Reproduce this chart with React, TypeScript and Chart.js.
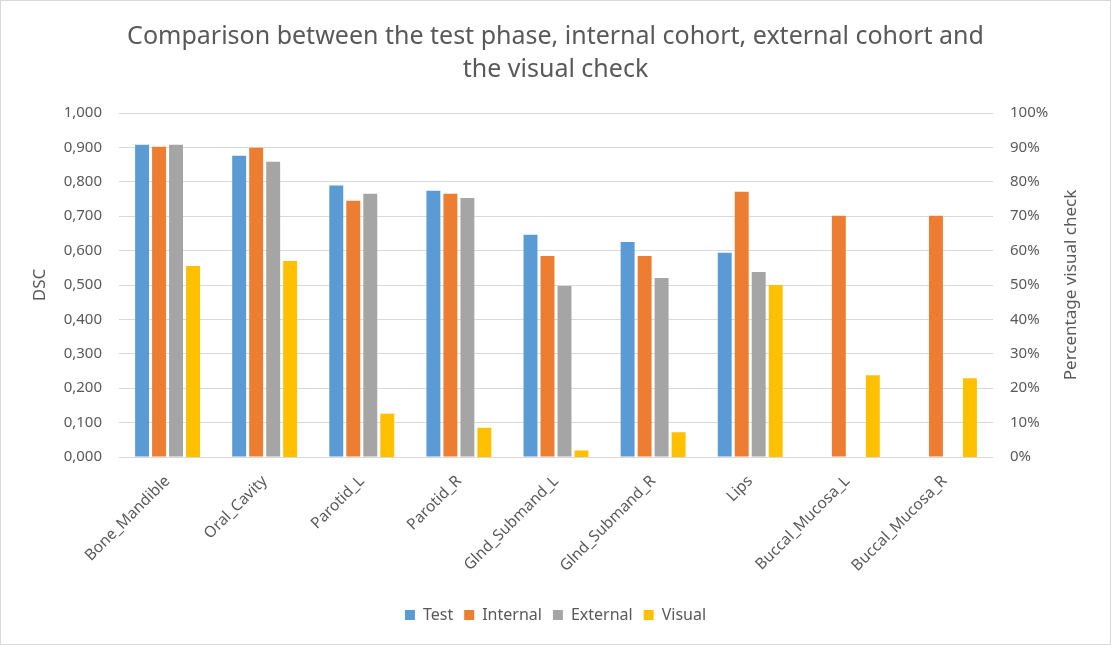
import { useEffect, useRef } from 'react';
import { Chart, registerables } from 'chart.js';

Chart.register(...registerables);

const organs = [
  'Bone_Mandible',
  'Oral_Cavity',
  'Parotid_L',
  'Parotid_R',
  'Glnd_Submand_L',
  'Glnd_Submand_R',
  'Lips',
  'Buccal_Mucosa_L',
  'Buccal_Mucosa_R',
];

// DSC values (left axis)
const testDsc = [0.908, 0.876, 0.789, 0.774, 0.646, 0.625, 0.594, null, null];
const internalDsc = [0.902, 0.899, 0.745, 0.765, 0.584, 0.584, 0.771, 0.701, 0.701];
const externalDsc = [0.908, 0.858, 0.765, 0.753, 0.497, 0.52, 0.538, null, null];
// percentage visual check (right axis)
const visualPct = [55.5, 57, 12.6, 8.5, 1.9, 7.2, 50, 23.8, 22.9];

const titleLines = [
  'Comparison between the test phase, internal cohort, external cohort and',
  'the visual check',
];
const rightTitle = 'Percentage visual check';

const FONT = "'Noto Sans', 'Open Sans', sans-serif";
const TEXT = '#595959';
const GRID = '#d9d9d9';

// Excel writes the right axis title bottom-to-top, Chart.js turns it the other way
const rightTitlePlugin = {
  id: 'rightTitle',
  afterDraw(chart: any) {
    const { ctx, chartArea } = chart;
    ctx.save();
    ctx.fillStyle = TEXT;
    ctx.font = `17px ${FONT}`;
    ctx.textAlign = 'center';
    ctx.textBaseline = 'middle';
    ctx.translate(1070, (chartArea.top + chartArea.bottom) / 2);
    ctx.rotate(-Math.PI / 2);
    ctx.fillText(rightTitle, 0, 0);
    ctx.restore();
  },
};

export default function App() {
  const canvasRef = useRef<HTMLCanvasElement | null>(null);

  useEffect(() => {
    if (!canvasRef.current) return;
    document.body.style.margin = '0';

    const chart = new Chart(canvasRef.current, {
      type: 'bar',
      data: {
        labels: organs,
        datasets: [
          { label: 'Test', data: testDsc, backgroundColor: '#5b9bd5', yAxisID: 'y' },
          { label: 'Internal', data: internalDsc, backgroundColor: '#ed7d31', yAxisID: 'y' },
          { label: 'External', data: externalDsc, backgroundColor: '#a5a5a5', yAxisID: 'y' },
          { label: 'Visual', data: visualPct, backgroundColor: '#ffc000', yAxisID: 'y2' },
        ],
      },
      options: {
        animation: false,
        responsive: false,
        maintainAspectRatio: false,
        datasets: {
          bar: { categoryPercentage: 0.7, barPercentage: 0.82 },
        },
        layout: { padding: { left: 0, right: 0, top: 0, bottom: 11 } },
        plugins: {
          tooltip: { enabled: false },
          title: {
            display: true,
            text: titleLines,
            color: TEXT,
            font: { family: FONT, size: 25, weight: 'normal', lineHeight: 1.32 },
            padding: { top: 19, bottom: 27 },
          },
          legend: {
            position: 'bottom',
            labels: {
              color: TEXT,
              font: { family: FONT, size: 16 },
              boxWidth: 10,
              boxHeight: 10,
              padding: 11,
            },
          },
        },
        scales: {
          x: {
            grid: { display: false },
            border: { display: false },
            ticks: {
              color: TEXT,
              font: { family: FONT, size: 15.5 },
              minRotation: 45,
              maxRotation: 45,
              padding: 7,
              autoSkip: false,
            },
            afterFit: (scale: any) => {
              scale.height = 139;
            },
          },
          y: {
            position: 'left',
            min: 0,
            max: 1,
            ticks: {
              stepSize: 0.1,
              color: TEXT,
              font: { family: FONT, size: 15 },
              padding: 17,
              callback: (v: any) => Number(v).toFixed(3).replace('.', ','),
            },
            grid: { color: GRID, lineWidth: 1, drawTicks: false },
            border: { display: false },
            title: {
              display: true,
              text: 'DSC',
              color: TEXT,
              font: { family: FONT, size: 17 },
              padding: { top: 29, bottom: 0 },
            },
            afterFit: (scale: any) => {
              scale.width = 118;
            },
          },
          y2: {
            position: 'right',
            min: 0,
            max: 100,
            ticks: {
              stepSize: 10,
              color: TEXT,
              font: { family: FONT, size: 15 },
              padding: 17,
              callback: (v: any) => v + '%',
            },
            grid: { display: false, drawTicks: false },
            border: { display: false },
            afterFit: (scale: any) => {
              scale.width = 117;
            },
          },
        },
      },
      plugins: [rightTitlePlugin],
    });

    return () => {
      chart.destroy();
    };
  }, []);

  return (
    <div
      style={{
        position: 'absolute',
        left: 0,
        top: 0,
        width: 1111,
        height: 645,
        boxSizing: 'border-box',
        border: '1px solid #d9d9d9',
        background: '#fff',
      }}
    >
      <canvas ref={canvasRef} width={1109} height={643} style={{ display: 'block' }} />
    </div>
  );
}
